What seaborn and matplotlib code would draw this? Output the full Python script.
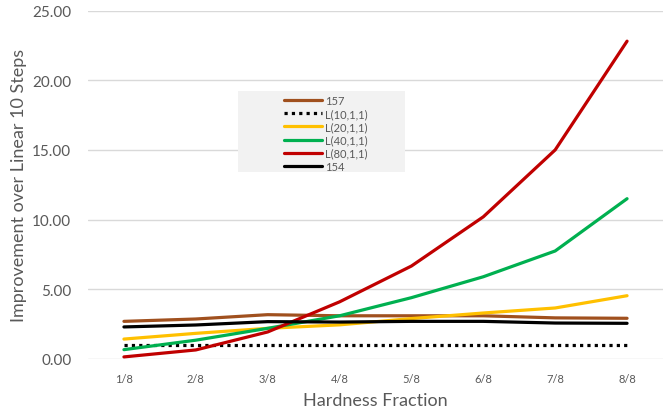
import numpy as np
import pandas as pd
import seaborn as sns
import matplotlib
matplotlib.use('Agg')
import matplotlib.pyplot as plt
from matplotlib.patches import Rectangle

# data
fractions = ['1/8', '2/8', '3/8', '4/8', '5/8', '6/8', '7/8', '8/8']
s157 = [2.70, 2.87, 3.18, 3.10, 3.10, 3.10, 2.95, 2.92]
l10 = [1.00, 1.00, 1.00, 1.00, 1.00, 1.00, 1.00, 1.00]
l20 = [1.43, 1.84, 2.20, 2.45, 2.90, 3.30, 3.66, 4.54]
l40 = [0.67, 1.35, 2.20, 3.10, 4.40, 5.90, 7.75, 11.50]
l80 = [0.15, 0.65, 1.94, 4.10, 6.67, 10.20, 15.00, 22.80]
s154 = [2.30, 2.44, 2.68, 2.65, 2.70, 2.70, 2.58, 2.56]

series_names = ['157', 'L(10,1,1)', 'L(20,1,1)', 'L(40,1,1)', 'L(80,1,1)', '154']
series_vals = [s157, l10, l20, l40, l80, s154]
colors = ['#A0501E', '#000000', '#FFC000', '#00B050', '#C00000', '#000000']
styles = ['-', (0, (1, 1.3)), '-', '-', '-', '-']

rows = []
for name, vals in zip(series_names, series_vals):
    for i, v in enumerate(vals):
        rows.append({'series': name, 'idx': i, 'value': v})
df = pd.DataFrame(rows)

sns.set_style('white')
plt.rcParams['font.family'] = ['Lato', 'DejaVu Sans']

fig = plt.figure(figsize=(6.71, 4.14), dpi=100)
ax = fig.add_axes([88 / 671, 1 - 360 / 414, (663 - 88) / 671, (360 - 11.5) / 414])

for name, col, ls in zip(series_names, colors, styles):
    sub = df[df['series'] == name]
    sns.lineplot(data=sub, x='idx', y='value', ax=ax, color=col, linewidth=2.3,
                 label=name, sort=False)
    ax.lines[-1].set_linestyle(ls)

ax.set_xlim(-0.5, 7.5)
ax.set_ylim(0, 25)
ax.set_yticks(np.arange(0, 26, 5))
ax.set_yticklabels([f'{v:.2f}' for v in np.arange(0, 26, 5)])
ax.set_xticks(range(len(fractions)))
ax.set_xticklabels(fractions)
ax.grid(axis='y', color='#D9D9D9', linewidth=1)
ax.set_axisbelow(True)
for sp in ax.spines.values():
    sp.set_visible(False)
ax.tick_params(axis='y', labelsize=11, labelcolor='#595959', length=0, pad=12)
ax.tick_params(axis='x', labelsize=8, labelcolor='#595959', length=0, pad=10)
ax.set_xlabel('Hardness Fraction', fontsize=13, color='#595959', labelpad=6)
ax.set_ylabel('Improvement over Linear 10 Steps', fontsize=13, color='#595959', labelpad=4)

# legend panel (covers gridlines, sits under the legend text)
ax.add_patch(Rectangle((238 / 671, 1 - 173 / 414), (405 - 238) / 671, (173 - 92) / 414,
                       transform=fig.transFigure, facecolor='#F2F2F2',
                       edgecolor='none', zorder=2.5, clip_on=False))
handles, labels = ax.get_legend_handles_labels()
for h, ls in zip(handles, styles):
    h.set_linestyle(ls)
leg = ax.legend(handles, labels, loc='upper left', bbox_to_anchor=(276 / 671, 1 - 88 / 414),
                bbox_transform=fig.transFigure, frameon=False, fontsize=8,
                handlelength=3.4, handletextpad=0.3, labelspacing=0.2, borderpad=0.2,
                labelcolor='#595959')
leg.set_zorder(5)

fig.savefig('out.png', dpi=100)
